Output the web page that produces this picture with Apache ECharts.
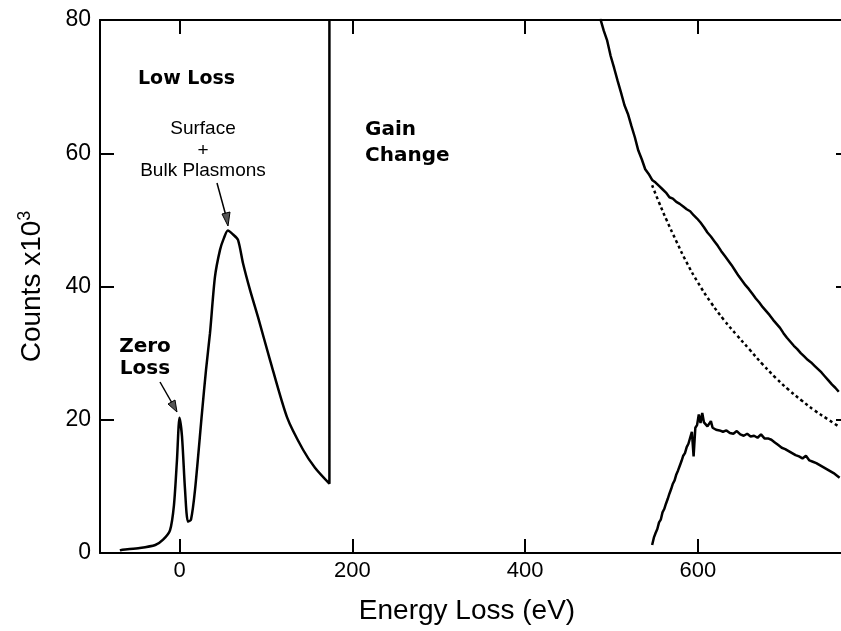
<!DOCTYPE html>
<html>
<head>
  <meta charset="UTF-8">
  <title>EELS spectrum</title>
  <style>
    html, body { margin: 0; padding: 0; background: #fff; }
    #main { width: 841px; height: 631px; }
  </style>
  <script src="https://cdn.jsdelivr.net/npm/echarts@6/dist/echarts.min.js"></script>
</head>
<body>
  <div id="main"></div>
  <script>
    // x ticks (eV) and y ticks (counts x10^3)
    var xTicks = [0, 200, 400, 600];
    var yTicks = [0, 20, 40, 60, 80];

    // low loss region, ends with the gain change step
    var lowLoss = [
      [-69, 0.4], [-66, 0.5], [-46, 0.75], [-28, 1.2], [-19, 2.0], [-11, 3.4],
      [-6.4, 7.2], [-2.9, 14], [0, 20.3], [2.9, 17.5], [6.4, 9.5], [9.8, 4.7],
      [13.3, 5.0], [18, 9.5], [26, 21], [30.7, 27.5], [35.3, 33], [41, 41.4],
      [46.9, 45.5], [51.5, 47.3], [56, 48.4], [62, 47.8], [67.7, 47], [73.5, 43.5],
      [81.6, 39.5], [90.9, 35.4], [104.7, 29], [124.4, 20.4], [143, 15.5],
      [156.8, 12.8], [173.5, 10.4], [173.5, 80]
    ];

    // core loss spectrum (raw)
    var coreE = [487, 491, 495, 499, 503, 507, 511, 515, 519, 523, 527, 531, 535, 539,
      543, 547, 551, 555, 559, 563, 567, 571, 575, 579, 583, 587, 591, 595, 599, 603,
      607, 611, 615, 619, 623, 627, 631, 635, 639, 643, 647, 651, 655, 659, 663, 667,
      671, 675, 679, 683, 687, 691, 695, 699, 703, 707, 711, 715, 719, 723, 727, 731,
      735, 739, 743, 747, 751, 755, 759, 763];
    var coreC = [80.2, 78.4, 76.9, 74.6, 72.8, 70.9, 69.1, 67.2, 65.9, 64.1, 62.4, 60.4,
      59.1, 57.6, 56.9, 56.0, 55.6, 55.1, 54.6, 54.1, 53.4, 53.2, 52.7, 52.4, 52.0,
      51.6, 51.3, 50.7, 50.2, 49.6, 48.9, 48.1, 47.5, 46.8, 46.1, 45.3, 44.6, 43.9,
      43.2, 42.4, 41.6, 40.9, 40.2, 39.6, 38.9, 38.2, 37.6, 36.9, 36.3, 35.7, 35.0,
      34.4, 33.8, 33.0, 32.3, 31.7, 31.1, 30.6, 30.0, 29.5, 29.0, 28.6, 28.1, 27.6,
      27.1, 26.5, 25.9, 25.3, 24.8, 24.2];

    // extrapolated background (dotted)
    var bgE = [547, 555, 564, 575, 587, 600, 615, 630, 645, 660, 675, 690, 705, 720, 735, 750, 764];
    var bgC = [55.2, 52.6, 49.9, 46.8, 43.6, 40.6, 37.6, 35.0, 32.7, 30.5, 28.3, 26.3, 24.5, 22.9, 21.4, 20.1, 18.9];

    // background subtracted edge
    var edgeE = [547, 549, 551, 553, 555, 557, 559, 561, 563, 565, 567, 569, 571, 573,
      575, 577, 579, 581, 583, 585, 587, 589, 591, 593, 595, 597, 599, 601, 603, 605,
      607, 609, 611, 613, 615, 617, 619, 621, 625, 629, 633, 637, 641, 645, 649, 653,
      657, 661, 665, 669, 673, 677, 681, 685, 689, 693, 697, 701, 705, 709, 713, 717,
      721, 725, 729, 733, 737, 741, 745, 749, 753, 757, 761, 764];
    var edgeC = [1.2, 2.3, 3.0, 3.6, 4.6, 5.0, 6.1, 6.6, 7.4, 8.1, 8.9, 9.6, 10.4, 10.9,
      11.8, 12.4, 13.1, 13.8, 14.6, 15.0, 15.9, 16.4, 17.3, 18.2, 14.5, 18.8, 19.2,
      20.8, 19.5, 21.0, 19.6, 19.3, 19.0, 18.9, 19.8, 18.8, 18.7, 18.5, 18.4, 18.2,
      18.4, 18.0, 17.9, 18.3, 17.8, 17.6, 17.9, 17.5, 17.6, 17.3, 17.8, 17.2, 17.2,
      17.0, 16.6, 16.2, 15.8, 15.6, 15.3, 15.0, 14.7, 14.5, 14.2, 14.6, 13.9, 13.7,
      13.5, 13.2, 12.9, 12.6, 12.3, 12.0, 11.6, 11.3];

    function pairs(xs, ys) {
      var out = [];
      for (var i = 0; i < xs.length; i++) out.push([xs[i], ys[i]]);
      return out;
    }

    var chart = echarts.init(document.getElementById('main'));
    var font = 'Liberation Sans, Arial, Helvetica, sans-serif';
    var boldFont = 'DejaVu Sans, sans-serif';

    function xAxisDef(pos, showLabels) {
      return {
        type: 'value', position: pos, min: -92, max: 776,
        axisLine: { show: true, onZero: false, lineStyle: { color: '#000', width: 2 } },
        axisTick: { show: true, inside: true, length: 14, customValues: xTicks,
          lineStyle: { color: '#000', width: 2 } },
        axisLabel: { show: showLabels, customValues: xTicks, margin: 7,
          color: '#000', fontSize: 22, fontFamily: font },
        splitLine: { show: false },
        name: showLabels ? 'Energy Loss (eV)' : '',
        nameLocation: 'middle', nameGap: 44,
        nameTextStyle: { color: '#000', fontSize: 28, fontFamily: font, padding: [0, 16, 0, 0] }
      };
    }
    function yAxisDef(pos, showLabels) {
      return {
        type: 'value', position: pos, min: 0, max: 80, interval: 20,
        axisLine: { show: true, onZero: false, lineStyle: { color: '#000', width: 2 } },
        axisTick: { show: true, inside: true, length: 14,
          lineStyle: { color: '#000', width: 2 } },
        axisLabel: { show: showLabels, margin: 9, color: '#000', fontSize: 23, fontFamily: font },
        splitLine: { show: false },
        name: showLabels ? '{a|Counts x10}{s|3}' : '',
        nameLocation: 'middle', nameGap: 52,
        nameTextStyle: {
          color: '#000', fontSize: 28, fontFamily: font,
          rich: {
            a: { fontSize: 28, fontFamily: font, color: '#000' },
            s: { fontSize: 18, fontFamily: font, color: '#000', verticalAlign: 'top', padding: [0, 0, 14, 0] }
          }
        }
      };
    }

    var option = {
      backgroundColor: '#fff',
      animation: false,
      grid: { left: 100, top: 20, width: 750, height: 533, outerBoundsMode: 'none', containLabel: false },
      xAxis: [xAxisDef('bottom', true), xAxisDef('top', false)],
      yAxis: [yAxisDef('left', true), yAxisDef('right', false)],
      series: [
        {
          type: 'line', data: lowLoss, showSymbol: false, smooth: 0.25,
          lineStyle: { color: '#000', width: 2.5 }
        },
        {
          type: 'line', data: pairs(coreE, coreC), showSymbol: false,
          lineStyle: { color: '#000', width: 2.5 }
        },
        {
          type: 'line', data: pairs(bgE, bgC), showSymbol: false, smooth: true,
          lineStyle: { color: '#000', width: 2.5, type: [3, 3] }
        },
        {
          type: 'line', data: pairs(edgeE, edgeC), showSymbol: false,
          lineStyle: { color: '#000', width: 2.5 }
        }
      ],
      graphic: [
        { type: 'text', left: 138, top: 70, style: { text: 'Low Loss', font: 'bold 19px ' + boldFont, fill: '#000' } },
        { type: 'text', x: 203, y: 129, style: { text: 'Surface', font: '19px ' + font, fill: '#000', align: 'center', verticalAlign: 'middle' } },
        { type: 'text', x: 203, y: 151, style: { text: '+', font: '19px ' + font, fill: '#000', align: 'center', verticalAlign: 'middle' } },
        { type: 'text', x: 203, y: 171, style: { text: 'Bulk Plasmons', font: '19px ' + font, fill: '#000', align: 'center', verticalAlign: 'middle' } },
        { type: 'text', x: 145, y: 347, style: { text: 'Zero', font: 'bold 20px ' + boldFont, fill: '#000', align: 'center', verticalAlign: 'middle' } },
        { type: 'text', x: 145, y: 369, style: { text: 'Loss', font: 'bold 20px ' + boldFont, fill: '#000', align: 'center', verticalAlign: 'middle' } },
        { type: 'text', x: 365, y: 130, style: { text: 'Gain', font: 'bold 20px ' + boldFont, fill: '#000', verticalAlign: 'middle' } },
        { type: 'text', x: 365, y: 156, style: { text: 'Change', font: 'bold 20px ' + boldFont, fill: '#000', verticalAlign: 'middle' } },
        // arrows
        { type: 'line', shape: { x1: 217, y1: 183, x2: 226, y2: 216 }, style: { stroke: '#000', lineWidth: 1.5 } },
        { type: 'polygon', shape: { points: [[228, 226], [222, 214], [230, 212]] }, style: { fill: '#555', stroke: '#000', lineWidth: 1 } },
        { type: 'line', shape: { x1: 160, y1: 382, x2: 172, y2: 403 }, style: { stroke: '#000', lineWidth: 1.5 } },
        { type: 'polygon', shape: { points: [[177, 412], [168, 404], [175, 400]] }, style: { fill: '#555', stroke: '#000', lineWidth: 1 } }
      ]
    };
    chart.setOption(option);
  </script>
</body>
</html>
